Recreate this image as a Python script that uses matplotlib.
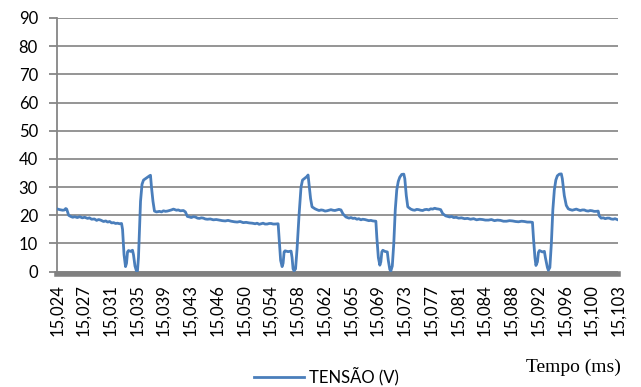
import numpy as np
import matplotlib
matplotlib.use('Agg')
import matplotlib.pyplot as plt

# time offset from 15,024 ms, in microseconds, and the measured voltage
t0_ms = 15.024
t_us = [0, 0.42, 0.84, 1.10, 1.26, 1.40, 1.68, 1.96, 2.25, 2.53, 2.90, 3.23, 3.60, 3.93, 4.35, 4.60,
        4.91, 5.30, 5.61, 5.90, 6.17, 6.59, 6.90, 7.16, 7.45, 7.72, 8.00, 8.28, 8.55, 8.84, 9.12,
        9.26, 9.47, 9.68, 9.82, 9.96, 10.10, 10.38, 10.66, 10.80, 11.01, 11.22, 11.36, 11.50, 11.64,
        11.79, 12.00, 12.21, 12.49, 12.77, 13.05, 13.19, 13.33, 13.54, 13.75, 14.03, 14.45, 14.75,
        15.01, 15.30, 15.57, 15.85, 16.13, 16.42, 16.84, 17.10, 17.40, 17.82, 18.10, 18.38, 18.70,
        18.94, 19.20, 19.50, 19.80, 20.06, 20.35, 20.62, 20.90, 21.19, 21.60, 22.03, 22.45, 22.87,
        23.30, 23.71, 24.10, 24.55, 25.00, 25.39, 25.80, 26.24, 26.65, 27.08, 27.50, 27.92, 28.20,
        28.48, 28.75, 29.04, 29.30, 29.60, 29.90, 30.16, 30.45, 30.73, 31.15,
        31.29, 31.50, 31.71, 31.85, 31.99, 32.13, 32.55, 32.97, 33.11, 33.25, 33.39, 33.60, 33.81,
        34.09, 34.37, 34.58, 34.93, 35.22, 35.36, 35.50, 35.71, 35.92, 36.34, 36.60, 36.90, 37.20,
        37.46, 37.75, 38.02, 38.30, 38.58, 38.85, 39.14, 39.42, 39.70, 39.99, 40.27, 40.69, 41.11,
        41.40, 41.67, 41.95, 42.23, 42.50, 42.79, 43.05, 43.35, 43.62, 43.91, 44.20, 44.48, 44.90,
        45.04, 45.25, 45.46, 45.60, 45.74, 45.88, 46.16, 46.51, 46.65, 46.86, 47.00, 47.21, 47.42,
        47.63, 47.84, 48.05, 48.26, 48.54, 48.83, 48.97, 49.18, 49.39, 49.81, 50.10, 50.37, 50.65,
        50.93, 51.20, 51.49, 51.75, 52.05, 52.35, 52.61, 52.90, 53.17, 53.45, 53.73, 54.02, 54.30,
        54.72, 55.00, 55.28, 55.55, 55.84, 56.20, 56.54, 56.95, 57.38, 57.80, 58.22, 58.65, 59.07,
        59.50, 59.91, 60.30, 60.75, 61.15, 61.59, 62.00, 62.43, 62.85, 63.28, 63.70, 64.12, 64.55,
        64.96, 65.40, 65.80, 66.20, 66.64, 66.93,
        67.07, 67.28, 67.42, 67.63, 67.77, 67.91, 68.33, 68.61, 68.75, 69.03, 69.17, 69.38, 69.59,
        69.80, 70.01, 70.22, 70.43, 70.71, 70.99, 71.13, 71.41, 71.69, 71.97, 72.25, 72.54, 72.80,
        73.10, 73.40, 73.66, 73.95, 74.22, 74.50, 74.78, 75.05, 75.34, 75.60, 75.90, 76.18, 76.32,
        76.60, 76.90, 77.17, 77.45, 77.73, 78.00, 78.29, 78.55, 78.85]
tensao = [22.3, 22.0, 21.8, 21.9, 22.4, 22.2, 20.0, 19.6, 19.3, 19.5, 19.2, 19.5, 19.1, 19.3, 18.9, 19.1,
          18.6, 18.7, 18.2, 18.5, 18.3, 17.8, 18.0, 17.6, 17.8, 17.3, 17.4, 17.1, 17.2, 17.0, 17.1,
          15.0, 6.0, 1.8, 3.0, 7.0, 7.5, 7.2, 7.6, 6.0, 2.0, 0.2, 0.3, 5.0, 15.0,
          25.0, 31.0, 32.5, 33.0, 33.5, 34.0, 34.2, 30.0, 25.0, 21.5, 21.2, 21.4, 21.2,
          21.6, 21.4, 21.5, 21.7, 21.9, 22.2, 21.8, 21.9, 21.6, 21.7, 21.2, 19.6, 19.4,
          19.2, 19.5, 19.4, 19.0, 18.9, 19.1, 19.0, 18.7, 18.6, 18.7, 18.4, 18.5, 18.3,
          18.1, 18.0, 18.2, 17.9, 17.7, 17.6, 17.8, 17.4, 17.5, 17.3, 17.2, 17.0, 17.2,
          16.8, 17.0, 17.2, 16.9, 16.9, 17.1, 17.1, 16.9, 16.9, 17.0,
          12.0, 4.0, 1.8, 3.0, 7.0, 7.4, 7.1, 7.3, 5.0, 1.0, 0.3, 1.0, 8.0,
          20.0, 30.0, 32.5, 33.2, 33.8, 34.3, 31.0, 26.0, 23.0, 22.3, 22.0, 21.7, 21.9,
          21.8, 21.5, 21.6, 21.8, 22.0, 21.8, 21.7, 21.9, 22.1, 21.9, 20.5, 19.4, 19.0,
          19.2, 18.9, 19.0, 18.6, 18.8, 18.4, 18.6, 18.5, 18.3, 18.1, 18.2, 18.0, 17.9,
          12.0, 5.0, 2.3, 3.5, 7.0, 7.6, 7.2, 7.0, 4.0, 0.8, 0.2, 2.0, 10.0,
          22.0, 29.0, 32.0, 33.5, 34.5, 34.6, 33.0, 27.0, 23.0, 22.2, 21.9, 21.8, 22.1,
          22.0, 21.8, 21.7, 22.0, 22.1, 21.9, 22.3, 22.2, 22.5, 22.3, 22.2, 22.0, 20.6,
          19.8, 19.6, 19.4, 19.6, 19.2, 19.3, 19.0, 19.1, 18.8, 18.9, 18.6, 18.8, 18.4,
          18.6, 18.5, 18.3, 18.3, 18.5, 18.1, 18.3, 18.2, 17.9, 17.9, 18.1, 18.0, 17.8,
          17.7, 17.9, 17.8, 17.6, 17.6, 17.5,
          12.0, 5.0, 2.2, 3.5, 6.8, 7.5, 7.0, 7.2, 5.0, 1.5, 0.5, 1.5, 10.0,
          22.0, 29.0, 32.5, 34.0, 34.6, 34.7, 33.0, 27.0, 23.5, 22.3, 22.0, 21.8, 22.0,
          22.2, 21.9, 21.7, 21.9, 21.9, 21.6, 21.5, 21.7, 21.6, 21.4, 21.4, 21.5, 19.8,
          19.0, 19.1, 18.8, 19.0, 19.0, 18.7, 18.6, 18.8, 18.5]

tick_labels = ['15,024', '15,027', '15,031', '15,035', '15,039', '15,043', '15,046', '15,050',
               '15,054', '15,058', '15,062', '15,065', '15,069', '15,073', '15,077', '15,081',
               '15,084', '15,088', '15,092', '15,096', '15,100', '15,103']
y_ticks = [0, 10, 20, 30, 40, 50, 60, 70, 80, 90]

tempo = t0_ms + np.array(t_us) / 1000.0
t_end = 15.103

plt.rcParams['font.family'] = ['Lato', 'DejaVu Sans']

fig = plt.figure(figsize=(6.41, 3.87), dpi=100)
ax = fig.add_axes([0.0885, 0.298, 0.876, 0.6555])

ax.plot(tempo, tensao, color='#4a7ebb', linewidth=2.0, label='TENSÃO (V)', zorder=3)

ax.set_xlim(t0_ms, t_end)
ax.set_ylim(0, 90)
ax.set_yticks(y_ticks)
ax.set_xticks(np.linspace(t0_ms, t_end, len(tick_labels)))
ax.set_xticklabels(tick_labels)
ax.tick_params(axis='x', length=0, pad=7, labelrotation=90, labelsize=12)
ax.tick_params(axis='y', length=5.5, width=1.3, color='#868686', pad=8, labelsize=12)

ax.grid(axis='y', color='#8c8c8c', linewidth=1.3)
ax.set_axisbelow(True)

for s in ['top', 'right']:
    ax.spines[s].set_visible(False)
ax.spines['left'].set_color('#868686')
ax.spines['left'].set_linewidth(1.3)
ax.spines['bottom'].set_color('#808080')
ax.spines['bottom'].set_linewidth(4.0)
ax.spines['bottom'].set_position(('outward', 2.0))

fig.text(0.894, 0.052, 'Tempo (ms)', family='Liberation Serif', fontsize=14,
         ha='center', va='center')
fig.legend(loc='center', bbox_to_anchor=(0.51, 0.028), frameon=False, fontsize=12,
           handlelength=3.0, handletextpad=0.3, borderaxespad=0)

fig.savefig('out.png', dpi=100)
